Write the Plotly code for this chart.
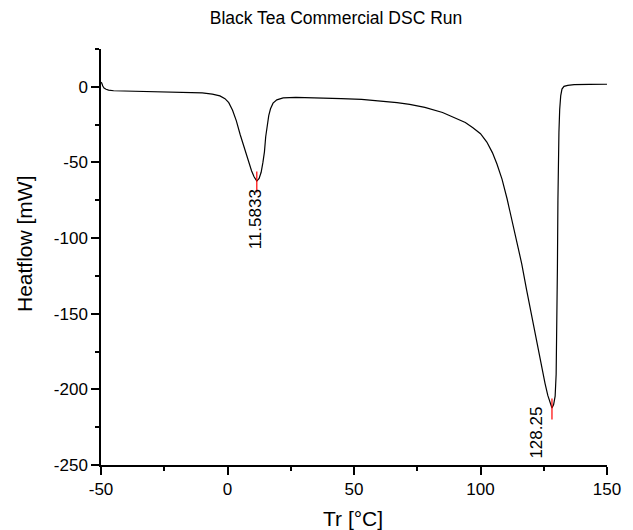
import plotly.graph_objects as go

# Temperature (°C) and heat flow (mW)
temp = [-50.0, -49.7, -49.3, -48.8, -48.0, -47.0, -45.0, -40.0, -30.0, -20.0,
        -15.0, -10.0, -6.0, -3.0, -1.0, 0.5, 2.0, 3.5, 5.0, 6.5,
        8.0, 9.5, 10.5, 11.58, 12.5, 13.3, 14.0, 14.6, 15.1, 15.7,
        16.3, 17.0, 18.0, 19.5, 22.0, 27.0, 35.0, 45.0, 53.0, 60.0,
        67.0, 72.0, 78.0, 85.0, 90.0, 94.0, 97.0, 100.0, 102.5, 104.7,
        106.5, 108.5, 110.5, 112.4, 114.5, 116.3, 118.2, 120.2, 122.0, 124.0,
        125.5, 126.6, 127.5, 128.25, 128.9, 129.5, 129.9, 130.2, 130.4, 130.6,
        130.8, 131.0, 131.3, 131.7, 132.2, 133.0, 134.5, 137.0, 143.0, 150.0]
heatflow = [3.0, 2.5, 0.5, -0.8, -1.6, -2.2, -2.6, -2.8, -3.0, -3.2,
            -3.5, -4.0, -4.8, -6.0, -7.8, -10.5, -15.5, -22.5, -31.5, -40.0,
            -48.5, -55.5, -59.5, -62.3, -60.5, -56.5, -50.0, -43.0, -33.0, -25.0,
            -19.0, -14.5, -10.8, -8.6, -7.3, -7.0, -7.2, -7.8, -8.3, -9.2,
            -10.4, -11.6, -13.6, -17.0, -20.5, -23.6, -27.0, -31.0, -36.5, -43.5,
            -51.0, -61.0, -74.0, -87.7, -102.0, -117.0, -134.0, -151.5, -167.0, -184.5,
            -196.0, -204.0, -209.5, -212.3, -210.0, -204.5, -190.0, -162.0, -120.0, -75.0,
            -45.0, -30.0, -15.0, -6.0, -1.5, 0.3, 1.0, 1.4, 1.6, 1.7]

# Peak markers
peak_temp = [11.5833, 128.25]
peak_flow = [-63.0, -213.0]
peak_labels = ["11.5833", "128.25"]
label_x = [11.2, 122.1]
label_y = [-87.7, -228.3]

x_ticks = [-50, 0, 50, 100, 150]
y_ticks = [-250, -200, -150, -100, -50, 0]

FONT = "Liberation Sans, Arial, sans-serif"

fig = go.Figure()
fig.add_trace(go.Scatter(x=temp, y=heatflow, mode="lines",
                         line=dict(color="black", width=1.2), showlegend=False))
fig.add_trace(go.Scatter(x=peak_temp, y=peak_flow, mode="markers",
                         marker=dict(symbol="line-ns", size=15,
                                     line=dict(color="red", width=1.2)),
                         showlegend=False))

for t, lx, ly in zip(peak_labels, label_x, label_y):
    fig.add_annotation(x=lx, y=ly, text=t, textangle=-90, showarrow=False,
                       font=dict(family=FONT, size=17, color="black"),
                       xanchor="center", yanchor="middle")

# Axis titles placed as annotations for exact positioning
fig.add_annotation(x=(358 - 101) / 516, y=(465 - 518) / 416, xref="paper", yref="paper",
                   text="Tr [°C]", showarrow=False,
                   font=dict(family=FONT, size=21, color="black"),
                   xanchor="center", yanchor="middle")
fig.add_annotation(x=(22.5 - 101) / 516, y=(465 - 244) / 416, xref="paper", yref="paper",
                   text="Heatflow [mW]", showarrow=False, textangle=-90,
                   font=dict(family=FONT, size=21, color="black"),
                   xanchor="center", yanchor="middle")

axis_common = dict(showline=True, linecolor="black", linewidth=1.5,
                   ticks="outside", ticklen=8, tickwidth=1.5, tickcolor="black",
                   showgrid=False, zeroline=False,
                   tickfont=dict(family=FONT, size=17, color="black"))

fig.update_xaxes(range=[-50, 150], tickvals=x_ticks,
                 ticktext=[str(v) for v in x_ticks],
                 minor=dict(ticks="outside", ticklen=4, tickwidth=1.5,
                            tickcolor="black", dtick=25, tick0=-50, showgrid=False),
                 **axis_common)
fig.update_yaxes(range=[-250, 25], tickvals=y_ticks,
                 ticktext=[str(v) for v in y_ticks],
                 minor=dict(ticks="outside", ticklen=4, tickwidth=1.5,
                            tickcolor="black", dtick=25, tick0=0, showgrid=False),
                 **axis_common)

fig.update_layout(
    width=633, height=530,
    margin=dict(l=101, r=16, t=49, b=65),
    plot_bgcolor="white", paper_bgcolor="white",
    title=dict(text="Black Tea Commercial DSC Run",
               font=dict(family=FONT, size=17.5, color="black"),
               x=336 / 633, xref="container", xanchor="center",
               y=1 - 18 / 530, yref="container", yanchor="middle"),
)

fig.write_html("out.html")
